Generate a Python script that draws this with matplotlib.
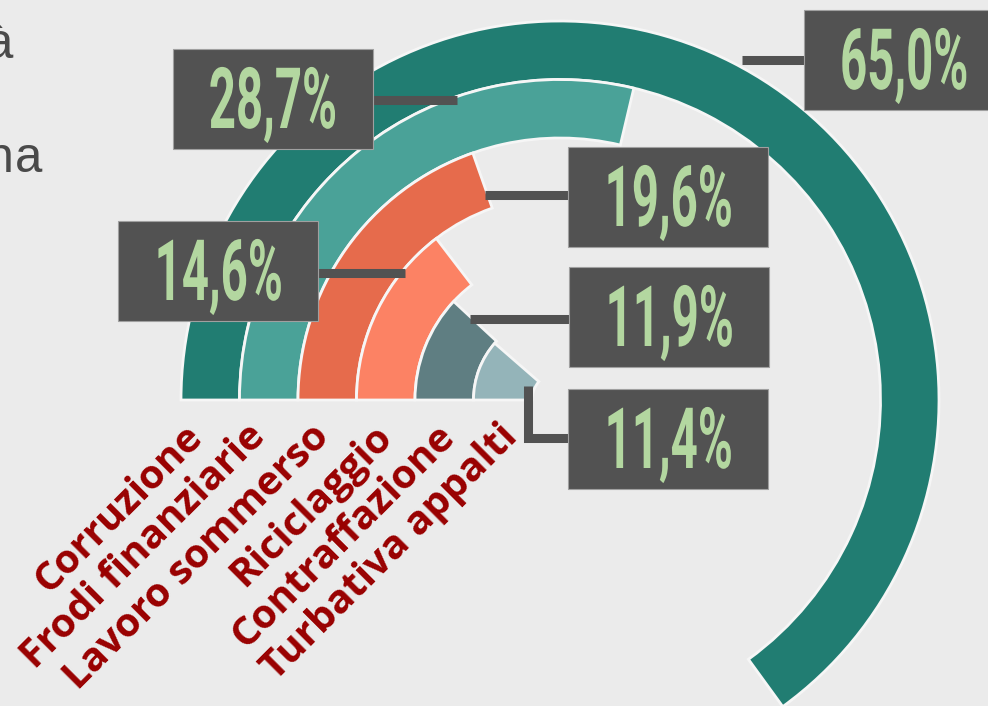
import matplotlib
matplotlib.use("Agg")
import matplotlib.pyplot as plt
import matplotlib.patheffects as pe
from matplotlib.patches import Rectangle
from matplotlib.lines import Line2D
from matplotlib.transforms import Affine2D
import numpy as np

categories = ["Corruzione", "Frodi finanziarie", "Lavoro sommerso",
              "Riciclaggio", "Contraffazione", "Turbativa appalti"]
values = [65.0, 28.7, 19.6, 14.6, 11.9, 11.4]
value_labels = ["65,0%", "28,7%", "19,6%", "14,6%", "11,9%", "11,4%"]
colors = ["#217d72", "#4aa298", "#e66b4c", "#fc8264", "#5f7e82", "#94b4b9"]

W, H = 988, 706
BG = "#ebebeb"
BOX = "#525252"
GREEN = "#b3d7a0"


def fx(x):
    return x / W


def fy(y):
    return 1 - y / H


class Squeeze(pe.AbstractPathEffect):
    # narrow the glyphs horizontally around their centre
    def __init__(self, sx):
        super().__init__()
        self.sx = sx

    def draw_path(self, renderer, gc, tpath, affine, rgbFace=None):
        ext = tpath.get_extents(affine)
        mid = (ext.x0 + ext.x1) / 2
        t = affine + Affine2D().translate(-mid, 0).scale(self.sx, 1).translate(mid, 0)
        renderer.draw_path(gc, tpath, t, rgbFace)


fig = plt.figure(figsize=(W / 100, H / 100), dpi=100)
fig.patch.set_facecolor(BG)

# polar axes: centre at (560, 400) px, outer radius 379 px
cx, cy, R = 560, 400, 379
ax = fig.add_axes([fx(cx - R), fy(cy + R), 2 * R / W, 2 * R / H], projection="polar")
ax.set_theta_offset(np.pi)
ax.set_theta_direction(-1)
ax.set_ylim(0, R)
ax.set_axis_off()
ax.patch.set_alpha(0)

hole = 28
step = (R - hole) / len(values)
n = len(values)
for i, (v, c) in enumerate(zip(values, colors)):
    ax.bar(0, step, width=v / 100 * 2 * np.pi, bottom=hole + (n - 1 - i) * step,
           align="edge", color=c, edgecolor="#f6f6f6", linewidth=2.0, clip_on=False)

# category names, rotated under the rings
for i, name in enumerate(categories):
    fig.text(fx(197 + 63 * i), fy(431), name, rotation=45, rotation_mode="anchor",
             ha="right", va="center", color="#990000", fontsize=29,
             family="Open Sans", fontweight="bold")

# value boxes and connectors
box_pos = [(804, 10), (173, 49), (568, 147), (118, 221), (569, 267), (568, 389)]
connectors = [
    [(742, 60), (804, 60)],
    [(372, 100), (457, 100)],
    [(485, 195), (568, 195)],
    [(318, 273), (405, 273)],
    [(470, 319), (569, 319)],
    [(528, 386), (528, 438), (568, 438)],
]
for lab, (bx, by), pts in zip(value_labels, box_pos, connectors):
    xs = [fx(p[0]) for p in pts]
    ys = [fy(p[1]) for p in pts]
    fig.add_artist(Line2D(xs, ys, color=BOX, lw=6.5, solid_capstyle="butt",
                          solid_joinstyle="miter", zorder=1))
    fig.add_artist(Rectangle((fx(bx), fy(by + 100)), 200 / W, 100 / H,
                             facecolor=BOX, edgecolor="#a0a0a0", lw=0.8, zorder=1.5))
    fig.text(fx(bx + 100), fy(by + 79), lab, ha="center", va="baseline",
             fontsize=61, family="Roboto", fontweight="bold", color=GREEN,
             path_effects=[Squeeze(0.56)], zorder=3)

# fragments of the neighbouring paragraph, cut by the left edge
fig.text(fx(-15.5), fy(58), "à", family="Liberation Mono", fontsize=36,
         color="#4a4a4a", va="baseline", ha="left")
fig.text(fx(-15.5), fy(172), "na", family="Liberation Mono", fontsize=36,
         color="#4a4a4a", va="baseline", ha="left")

fig.savefig("out.png", dpi=100, facecolor=BG)
